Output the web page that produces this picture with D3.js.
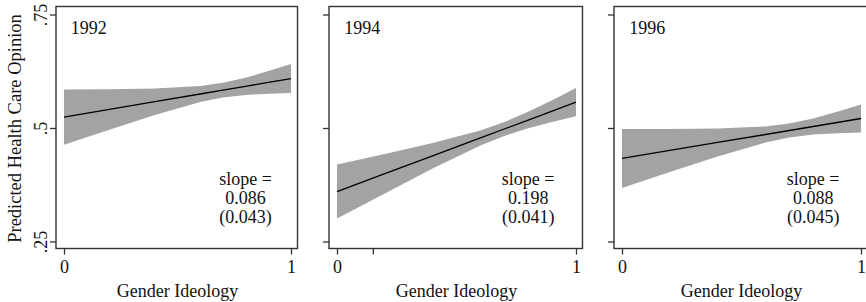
<!DOCTYPE html>
<html>
<head>
<meta charset="utf-8">
<script src="https://cdn.jsdelivr.net/npm/d3@7"></script>
<style>
  body { margin: 0; background: #fff; }
  svg text { font-family: "Liberation Serif", "Times New Roman", serif; fill: #111; }
</style>
</head>
<body>
<div class="chart"></div>
<script>
// values
const years = ["1992", "1994", "1996"]
const xs = [0, 0.2, 0.4, 0.6, 0.7, 0.8, 0.9, 1]
const fit1992 = [0.525, 0.542, 0.559, 0.576, 0.5845, 0.593, 0.6015, 0.610]
const upper1992 = [0.586, 0.5865, 0.588, 0.5935, 0.6006, 0.612, 0.6264, 0.642]
const lower1992 = [0.464, 0.4975, 0.530, 0.5585, 0.5684, 0.574, 0.5766, 0.578]
const fit1994 = [0.361, 0.4004, 0.4398, 0.4792, 0.4989, 0.5186, 0.5383, 0.558]
const upper1994 = [0.4205, 0.4437, 0.4679, 0.4957, 0.5141, 0.5368, 0.5623, 0.589]
const lower1994 = [0.3015, 0.3571, 0.4117, 0.4627, 0.4837, 0.5004, 0.5143, 0.527]
const fit1996 = [0.434, 0.4516, 0.4692, 0.4868, 0.4956, 0.5044, 0.5132, 0.522]
const upper1996 = [0.4988, 0.4991, 0.5002, 0.5045, 0.5108, 0.5221, 0.5368, 0.553]
const lower1996 = [0.3692, 0.4041, 0.4382, 0.4691, 0.4804, 0.4867, 0.4896, 0.491]
const slopes = ["0.086", "0.198", "0.088"]
const ses = ["(0.043)", "(0.041)", "(0.045)"]
const yTicks = [0.25, 0.5, 0.75]
const yTickLabels = [".25", ".5", ".75"]
const xTickSets = [[0, 1], [0, 0.15, 1], [0, 1]]

const fits = [fit1992, fit1994, fit1996]
const uppers = [upper1992, upper1994, upper1996]
const lowers = [lower1992, lower1994, lower1996]

const width = 866, height = 302
const panelX = [[64, 291], [337, 576], [622, 861]]
const frameTop = 6.5, frameBottom = 248.5

const svg = d3.select(".chart").append("svg").attr("width", width).attr("height", height)

const y = d3.scaleLinear().domain([0.25, 0.75]).range([242, 15])

years.forEach(function(yr, i) {
  const x = d3.scaleLinear().domain([0, 1]).range(panelX[i])
  const g = svg.append("g")
  const left = x(0) - 8, right = x(1) + 6.5

  const rows = xs.map((v, j) => ({x: v, fit: fits[i][j], lo: lowers[i][j], hi: uppers[i][j]}))

  g.append("path").datum(rows)
    .attr("fill", "#a3a3a3")
    .attr("d", d3.area().x(d => x(d.x)).y0(d => y(d.lo)).y1(d => y(d.hi)))

  g.append("path").datum(rows)
    .attr("fill", "none").attr("stroke", "#000").attr("stroke-width", 1.3)
    .attr("d", d3.line().x(d => x(d.x)).y(d => y(d.fit)))

  // frame
  g.append("rect").attr("x", left).attr("y", frameTop)
    .attr("width", right - left).attr("height", frameBottom - frameTop)
    .attr("fill", "none").attr("stroke", "#333").attr("stroke-width", 1.4)

  // y axis ticks
  const ya = g.append("g").attr("transform", `translate(${left},0)`)
    .call(d3.axisLeft(y).tickValues(yTicks).tickSize(6).tickPadding(3)
      .tickFormat((d, k) => i === 0 ? yTickLabels[k] : ""))
  ya.select(".domain").remove()
  ya.selectAll("line").attr("stroke", "#333").attr("stroke-width", 1.3)
  ya.selectAll("text")
    .attr("transform", "rotate(-90)")
    .attr("x", 0).attr("y", 0).attr("dy", 0)
    .attr("dx", 0)
    .style("text-anchor", "middle")
    .style("font-size", "18px")
    .each(function(d) {
      d3.select(this).attr("transform", `translate(-9,${y(d)}) rotate(-90)`)
    })
  ya.selectAll(".tick").attr("transform", null)
  ya.selectAll(".tick line").attr("transform", d => `translate(0,${y(d)})`)

  // x axis ticks
  const xa = g.append("g").attr("transform", `translate(0,${frameBottom})`)
    .call(d3.axisBottom(x).tickValues(xTickSets[i]).tickSize(6).tickPadding(6)
      .tickFormat(d => (d === 0 || d === 1) ? d3.format("d")(d) : ""))
  xa.select(".domain").remove()
  xa.selectAll("line").attr("stroke", "#333").attr("stroke-width", 1.3)
  xa.selectAll("text").style("font-size", "18px").attr("fill", "#111")

  g.append("text").attr("x", x(0.5)).attr("y", 297)
    .attr("text-anchor", "middle").style("font-size", "18px")
    .text("Gender Ideology")

  g.append("text").attr("x", x(0.03)).attr("y", 34)
    .style("font-size", "18px").text(yr)

  const note = g.append("text").attr("text-anchor", "middle").style("font-size", "18px")
  ;["slope =", slopes[i], ses[i]].forEach((t, k) => {
    note.append("tspan").attr("x", x(0.8)).attr("y", 185 + k * 19).text(t)
  })
})

svg.append("text")
  .attr("transform", `translate(21,${(y(0.25) + y(0.75)) / 2}) rotate(-90)`)
  .attr("text-anchor", "middle").style("font-size", "18.5px")
  .text("Predicted Health Care Opinion")
</script>
</body>
</html>
